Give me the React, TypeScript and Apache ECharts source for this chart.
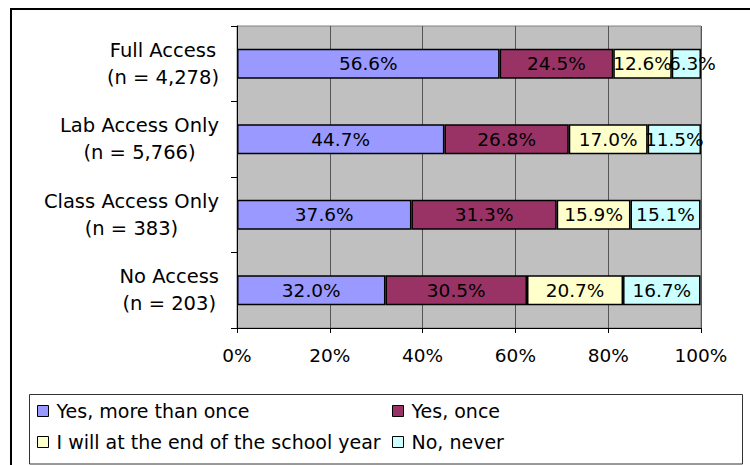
import React, { useEffect, useRef } from "react";
import * as echarts from "echarts";

const categories = ["Full Access", "Lab Access Only", "Class Access Only", "No Access"];
const sampleSizes = ["4,278", "5,766", "383", "203"];
const seriesNames = ["Yes, more than once", "Yes, once", "I will at the end of the school year", "No, never"];
const moreThanOnce = [56.6, 44.7, 37.6, 32.0];
const once = [24.5, 26.8, 31.3, 30.5];
const endOfYear = [12.6, 17.0, 15.9, 20.7];
const never = [6.3, 11.5, 15.1, 16.7];
const xTicks = [0, 20, 40, 60, 80, 100];
const colors = ["#9999FF", "#993366", "#FFFFCC", "#CCFFFF"];

const FONT = "DejaVu Sans";

export default function App() {
  const ref = useRef<HTMLDivElement>(null);
  useEffect(() => {
    if (!ref.current) return;
    const chart = echarts.init(ref.current, null, { renderer: "svg" });
    const values = [moreThanOnce, once, endOfYear, never];
    const series = values.map((arr, i) => ({
      name: seriesNames[i],
      type: "bar",
      stack: "total",
      barWidth: 30,
      data: arr.map((v, j) =>
        i === 3 && j === 0 ? { value: v, label: { offset: [6, 0] } } : v
      ),
      itemStyle: { color: colors[i], borderColor: "#000", borderWidth: 1.5 },
      label: {
        show: true,
        position: "inside",
        color: "#000",
        fontFamily: FONT,
        fontSize: 18.5,
        formatter: (p: any) => Number(p.value).toFixed(1) + "%",
      },
    }));
    const legendText = {
      fontFamily: FONT,
      fontSize: 19,
      color: "#000",
      lineHeight: 20,
      padding: [0, 0, 0, 3],
    };
    chart.setOption({
      animation: false,
      backgroundColor: "#fff",
      graphic: [
        {
          type: "rect",
          shape: { x: 11, y: 9, width: 800, height: 500 },
          style: { fill: "none", stroke: "#000", lineWidth: 2 },
          silent: true,
        },
        {
          type: "rect",
          shape: { x: 29.5, y: 394.5, width: 713, height: 69.5 },
          style: { fill: "#fff", stroke: "#333", lineWidth: 1 },
          silent: true,
          z: -1,
        },
      ],
      grid: {
        left: 237,
        top: 26,
        right: 49,
        bottom: 137,
        show: true,
        backgroundColor: "#C0C0C0",
        borderColor: "#808080",
        borderWidth: 1,
      },
      xAxis: {
        type: "value",
        min: 0,
        max: 100,
        interval: 20,
        axisLine: { show: true, lineStyle: { color: "#000", width: 1 } },
        axisTick: { show: true, length: 5, lineStyle: { color: "#000" } },
        splitLine: { show: true, lineStyle: { color: "#555", width: 1 } },
        axisLabel: {
          margin: 18,
          color: "#000",
          fontFamily: FONT,
          fontSize: 18.5,
          formatter: (v: number) => (xTicks.includes(v) ? v + "%" : ""),
        },
      },
      yAxis: {
        type: "category",
        inverse: true,
        data: categories,
        axisLine: { show: true, lineStyle: { color: "#000", width: 1 } },
        axisTick: { show: true, length: 6, lineStyle: { color: "#000" } },
        axisLabel: {
          margin: 18,
          color: "#000",
          fontFamily: FONT,
          fontSize: 19.5,
          align: "right",
          formatter: (v: string, i: number) => `{c|${v}}\n{c|(n = ${sampleSizes[i]})}`,
          rich: {
            c: { align: "center", fontFamily: FONT, fontSize: 19.5, lineHeight: 27, color: "#000" },
          },
        },
      },
      legend: [
        {
          data: [seriesNames[0], seriesNames[2]],
          orient: "vertical",
          left: 37,
          top: 401,
          padding: 0,
          itemGap: 11,
          itemWidth: 11,
          itemHeight: 11,
          icon: "rect",
          itemStyle: { borderColor: "#000", borderWidth: 1 },
          textStyle: legendText,
        },
        {
          data: [seriesNames[1], seriesNames[3]],
          orient: "vertical",
          left: 392,
          top: 401,
          padding: 0,
          itemGap: 11,
          itemWidth: 11,
          itemHeight: 11,
          icon: "rect",
          itemStyle: { borderColor: "#000", borderWidth: 1 },
          textStyle: legendText,
        },
      ],
      series,
    });
    return () => chart.dispose();
  }, []);
  return (
    <div
      ref={ref}
      style={{ position: "fixed", left: 0, top: 0, width: 750, height: 465, background: "#fff" }}
    />
  );
}
